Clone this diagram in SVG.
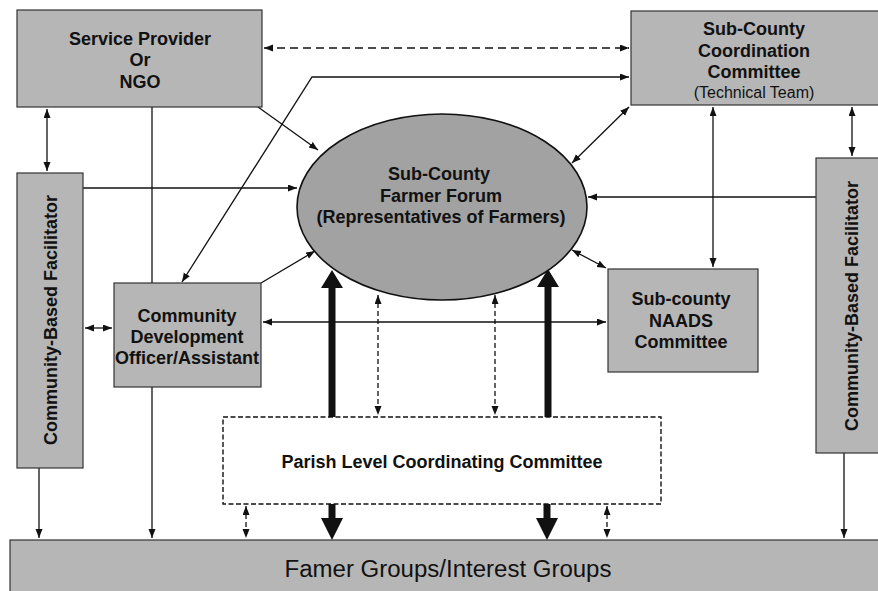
<svg xmlns="http://www.w3.org/2000/svg" width="878" height="591" viewBox="0 0 878 591">
<style>
.box{fill:#b6b6b6;stroke:#333;stroke-width:1.2}
.ell{fill:#a2a2a2;stroke:#111;stroke-width:1.6}
.t{font-family:"Liberation Sans",Arial,sans-serif;font-weight:bold;font-size:18px;fill:#111;text-anchor:middle}
.tr{font-family:"Liberation Sans",Arial,sans-serif;font-size:16px;fill:#111;text-anchor:middle}
.c{stroke:#111;stroke-width:1.3;fill:none}
.d2{marker-start:url(#ah);marker-end:url(#ah)}
.d1{marker-end:url(#ah)}
.dash{stroke-dasharray:8,5;stroke-width:1.6}
.dash2{stroke-dasharray:5,3}
.thick{fill:#111}
</style>
<defs>
<marker id="ah" markerUnits="userSpaceOnUse" markerWidth="10" markerHeight="8" refX="9" refY="3.5" orient="auto-start-reverse">
<path d="M0,0 L9,3.5 L0,7 z" fill="#111"/>
</marker>
</defs>
<rect width="878" height="591" fill="#fff"/>

<g id="connectors">
<line class="c" x1="152" y1="107" x2="152" y2="538" marker-end="url(#ah)"/>
<line class="c dash d2" x1="264" y1="48" x2="629" y2="48"/>
<polyline class="c d2" points="182,282 312,77 629,77"/>
<line class="c d1" x1="258" y1="107" x2="318" y2="150"/>
<line class="c d2" x1="47" y1="109" x2="47" y2="171"/>
<line class="c d1" x1="83" y1="188" x2="297" y2="188"/>
<line class="c d2" x1="85" y1="328" x2="112" y2="328"/>
<line class="c d1" x1="261" y1="283" x2="315" y2="251"/>
<line class="c d2" x1="263" y1="322" x2="606" y2="322"/>
<line class="c d2" x1="629" y1="107" x2="572" y2="163"/>
<line class="c d2" x1="572" y1="250" x2="606" y2="268"/>
<line class="c d2" x1="713" y1="107" x2="713" y2="267"/>
<line class="c d2" x1="852" y1="107" x2="852" y2="156"/>
<line class="c d1" x1="816" y1="197" x2="588" y2="197"/>
<line class="c d1" x1="39" y1="468" x2="39" y2="538"/>
<line class="c d1" x1="844" y1="453" x2="844" y2="538"/>
<line class="c dash2 d2" x1="378" y1="295" x2="378" y2="415"/>
<line class="c dash2 d2" x1="495" y1="295" x2="495" y2="415"/>
<line class="c dash2 d2" x1="246" y1="506" x2="246" y2="538"/>
<line class="c dash2 d2" x1="607" y1="506" x2="607" y2="538"/>
<path class="thick" d="M328.5,417 L328.5,288 L321,288 L332,270 L343,288 L335.5,288 L335.5,417 z"/>
<path class="thick" d="M544.5,417 L544.5,287 L537,287 L548,269 L559,287 L551.5,287 L551.5,417 z"/>
<path class="thick" d="M328.5,504 L328.5,518 L321,518 L332,540 L343,518 L335.5,518 L335.5,504 z"/>
<path class="thick" d="M543.5,504 L543.5,518 L536,518 L547,540 L558,518 L550.5,518 L550.5,504 z"/>
</g>

<g id="service-provider">
<rect class="box" x="17" y="10" width="245" height="97"/>
<text class="t" x="140" y="45">Service Provider</text>
<text class="t" x="140" y="66">Or</text>
<text class="t" x="140" y="88">NGO</text>
</g>

<g id="sub-county-coordination">
<rect class="box" x="631" y="11" width="248" height="94"/>
<text class="t" x="754" y="35">Sub-County</text>
<text class="t" x="754" y="57">Coordination</text>
<text class="t" x="754" y="78">Committee</text>
<text class="tr" x="754" y="98">(Technical Team)</text>
</g>

<g id="farmer-forum">
<ellipse class="ell" cx="442" cy="207" rx="145" ry="93"/>
<text class="t" x="439" y="180">Sub-County</text>
<text class="t" x="441" y="202">Farmer Forum</text>
<text class="t" x="441" y="223">(Representatives of Farmers)</text>
</g>

<g id="cbf-left">
<rect class="box" x="17" y="173" width="66" height="295"/>
<text class="t" transform="translate(57,320) rotate(-90)">Community-Based Facilitator</text>
</g>

<g id="cbf-right">
<rect class="box" x="816" y="158" width="63" height="295"/>
<text class="t" transform="translate(858,306) rotate(-90)">Community-Based Facilitator</text>
</g>

<g id="cdo">
<rect class="box" x="114" y="283" width="147" height="104"/>
<text class="t" x="187" y="322">Community</text>
<text class="t" x="187" y="343">Development</text>
<text class="t" x="187" y="364">Officer/Assistant</text>
</g>

<g id="naads">
<rect class="box" x="608" y="269" width="150" height="103"/>
<text class="t" x="681" y="305">Sub-county</text>
<text class="t" x="681" y="327">NAADS</text>
<text class="t" x="681" y="348">Committee</text>
</g>

<g id="parish">
<rect x="223" y="417" width="438" height="87" fill="#fff" stroke="#111" stroke-width="1.4" stroke-dasharray="5,2.5"/>
<text class="t" x="442" y="468">Parish Level Coordinating Committee</text>
</g>

<g id="farmer-groups">
<rect class="box" x="10" y="540" width="870" height="53"/>
<text x="448" y="577" font-family="'Liberation Sans',Arial,sans-serif" font-size="23" fill="#111" text-anchor="middle" textLength="327" lengthAdjust="spacingAndGlyphs">Famer Groups/Interest Groups</text>
</g>
</svg>
